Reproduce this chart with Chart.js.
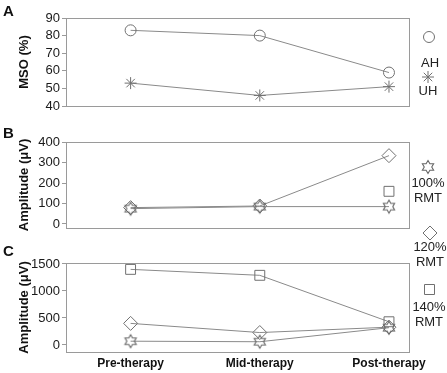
<!DOCTYPE html>
<html><head><meta charset="utf-8">
<script src="https://cdn.jsdelivr.net/npm/chart.js@4"></script>
<style>
body{margin:0;background:#fff;width:447px;height:373px;overflow:hidden;position:relative;font-family:"Liberation Sans",Arial,sans-serif;}
canvas.chart{position:absolute;left:0;}
.lbl{position:absolute;font-weight:bold;font-size:15px;line-height:15px;color:#111;}
.leg{position:absolute;font-size:13px;color:#222;text-align:center;width:44px;line-height:15px;}
canvas.mk{position:absolute;}
</style></head><body>
<canvas class="chart" id="cA" width="447" height="120" style="top:0px"></canvas>
<canvas class="chart" id="cB" width="447" height="120" style="top:120px"></canvas>
<canvas class="chart" id="cC" width="447" height="133" style="top:240px"></canvas>
<div class="lbl" style="left:3px;top:3px">A</div>
<div class="lbl" style="left:3px;top:125px">B</div>
<div class="lbl" style="left:3px;top:243px">C</div>
<div class="leg" style="left:408px;top:55px">AH</div>
<div class="leg" style="left:406px;top:83px">UH</div>
<div class="leg" style="left:406px;top:175px">100%<br>RMT</div>
<div class="leg" style="left:408px;top:239px">120%<br>RMT</div>
<div class="leg" style="left:407px;top:299px">140%<br>RMT</div>
<canvas class="mk" id="m1" width="16" height="16" style="left:421px;top:29px"></canvas>
<canvas class="mk" id="m2" width="16" height="16" style="left:420px;top:69px"></canvas>
<canvas class="mk" id="m3" width="16" height="16" style="left:420px;top:159px"></canvas>
<canvas class="mk" id="m4" width="16" height="16" style="left:422px;top:225px"></canvas>
<canvas class="mk" id="m5" width="16" height="16" style="left:421px;top:281px"></canvas>
<script>
// ---- data ----
const categories = ['Pre-therapy', 'Mid-therapy', 'Post-therapy'];
const mso_AH = [83, 80, 59];
const mso_UH = [53, 46, 51];
const ampB_100 = [75, 85, 85];
const ampB_120 = [80, 88, 335];
const ampB_140 = [null, null, 160];
const ampC_100 = [70, 60, 320];
const ampC_120 = [400, 230, 330];
const ampC_140 = [1400, 1290, 430];
const ticksA = [40, 50, 60, 70, 80, 90];
const ticksB = [0, 100, 200, 300, 400];
const ticksC = [0, 500, 1000, 1500];

const LINE = '#8a8a8a';
const MARK = '#707070';
const FRAME = '#9a9a9a';

function hexagram(R) {
  const s = Math.ceil(R * 2 + 3);
  const c = document.createElement('canvas');
  c.width = s; c.height = s;
  const g = c.getContext('2d');
  const cx = s / 2, cy = s / 2, r = R / Math.sqrt(3);
  g.beginPath();
  for (let i = 0; i < 12; i++) {
    const a = -Math.PI / 2 + i * Math.PI / 6;
    const rr = i % 2 === 0 ? R : r;
    const x = cx + rr * Math.cos(a), y = cy + rr * Math.sin(a);
    if (i === 0) g.moveTo(x, y); else g.lineTo(x, y);
  }
  g.closePath();
  g.strokeStyle = '#666'; g.lineWidth = 1.1;
  g.stroke();
  return c;
}
const hexImg = hexagram(6.5);

function pts(arr) { return arr.map((v, i) => ({x: i, y: v})); }

function ds(arr, style, radius) {
  return {
    data: pts(arr),
    borderColor: LINE,
    borderWidth: 1,
    pointStyle: style,
    pointRadius: radius,
    pointBorderColor: MARK,
    pointBackgroundColor: 'rgba(0,0,0,0)',
    pointBorderWidth: 1,
    spanGaps: false,
    showLine: true
  };
}

const framePlugin = {
  id: 'frame',
  afterDraw(chart) {
    const {ctx, chartArea: a} = chart;
    ctx.save();
    ctx.strokeStyle = FRAME;
    ctx.lineWidth = 1;
    ctx.strokeRect(Math.round(a.left) + 0.5, Math.round(a.top) + 0.5,
                   Math.round(a.right - a.left), Math.round(a.bottom - a.top));
    ctx.restore();
  }
};

function makeChart(id, datasets, yTicks, yMin, yMax, yTitle, pad, showX) {
  return new Chart(document.getElementById(id), {
    type: 'line',
    data: {datasets},
    plugins: [framePlugin],
    options: {
      responsive: false,
      animation: false,
      layout: {padding: pad},
      plugins: {legend: {display: false}, tooltip: {enabled: false}},
      scales: {
        x: {
          type: 'linear', min: -0.5, max: 2.155,
          display: showX,
          grid: {display: false, drawTicks: false},
          border: {display: false},
          afterBuildTicks: s => { s.ticks = categories.map((c, i) => ({value: i})); },
          afterFit: s => { s.height = showX ? 21 : 0; },
          ticks: {
            padding: 4,
            autoSkip: false, maxRotation: 0,
            color: '#111',
            font: {family: '"Liberation Sans", Arial, sans-serif', size: 12, weight: 'bold'},
            callback: v => categories[v]
          }
        },
        y: {
          min: yMin, max: yMax,
          afterBuildTicks: s => { s.ticks = yTicks.map(v => ({value: v})); },
          afterFit: s => { s.width = 66; },
          grid: {drawOnChartArea: false, drawTicks: true, tickLength: 4, color: FRAME},
          border: {display: true, color: FRAME},
          ticks: {
            padding: 2,
            autoSkip: false,
            color: '#1a1a1a',
            font: {family: '"Liberation Sans", Arial, sans-serif', size: 13},
            callback: v => String(v)
          },
          title: {
            display: true, text: yTitle,
            color: '#111',
            padding: {top: 17, bottom: 0},
            font: {family: '"Liberation Sans", Arial, sans-serif', size: 13, weight: 'bold'}
          }
        }
      }
    }
  });
}

makeChart('cA', [ds(mso_AH, 'circle', 5.5), ds(mso_UH, 'star', 6)],
  ticksA, 40, 90, 'MSO (%)', {left: 0, right: 38, top: 18, bottom: 14}, false);
makeChart('cB', [ds(ampB_100, hexImg, 6), ds(ampB_120, 'rectRot', 7), ds(ampB_140, 'rect', 7)],
  ticksB, -20, 402, 'Amplitude (\u03bcV)', {left: 0, right: 38, top: 22, bottom: 12}, false);
makeChart('cC', [ds(ampC_100, hexImg, 6), ds(ampC_120, 'rectRot', 7), ds(ampC_140, 'rect', 7)],
  ticksC, -130, 1518, 'Amplitude (\u03bcV)', {left: 0, right: 38, top: 23, bottom: 0}, true);

// legend markers
function mk(id, kind) {
  const g = document.getElementById(id).getContext('2d');
  const cx = 8, cy = 8;
  g.strokeStyle = MARK; g.lineWidth = 1;
  g.beginPath();
  if (kind === 'circle') {
    g.arc(cx, cy, 5.5, 0, Math.PI * 2);
  } else if (kind === 'star') {
    for (let i = 0; i < 4; i++) {
      const a = i * Math.PI / 4;
      g.moveTo(cx - 6 * Math.cos(a), cy - 6 * Math.sin(a));
      g.lineTo(cx + 6 * Math.cos(a), cy + 6 * Math.sin(a));
    }
  } else if (kind === 'hex') {
    g.drawImage(hexImg, cx - hexImg.width / 2, cy - hexImg.height / 2);
    return;
  } else if (kind === 'diamond') {
    g.moveTo(cx, cy - 7); g.lineTo(cx + 7, cy); g.lineTo(cx, cy + 7); g.lineTo(cx - 7, cy); g.closePath();
  } else if (kind === 'square') {
    g.rect(cx - 4.5, cy - 4.5, 10, 10);
  }
  g.stroke();
}
mk('m1', 'circle'); mk('m2', 'star'); mk('m3', 'hex'); mk('m4', 'diamond'); mk('m5', 'square');
</script>
</body></html>
